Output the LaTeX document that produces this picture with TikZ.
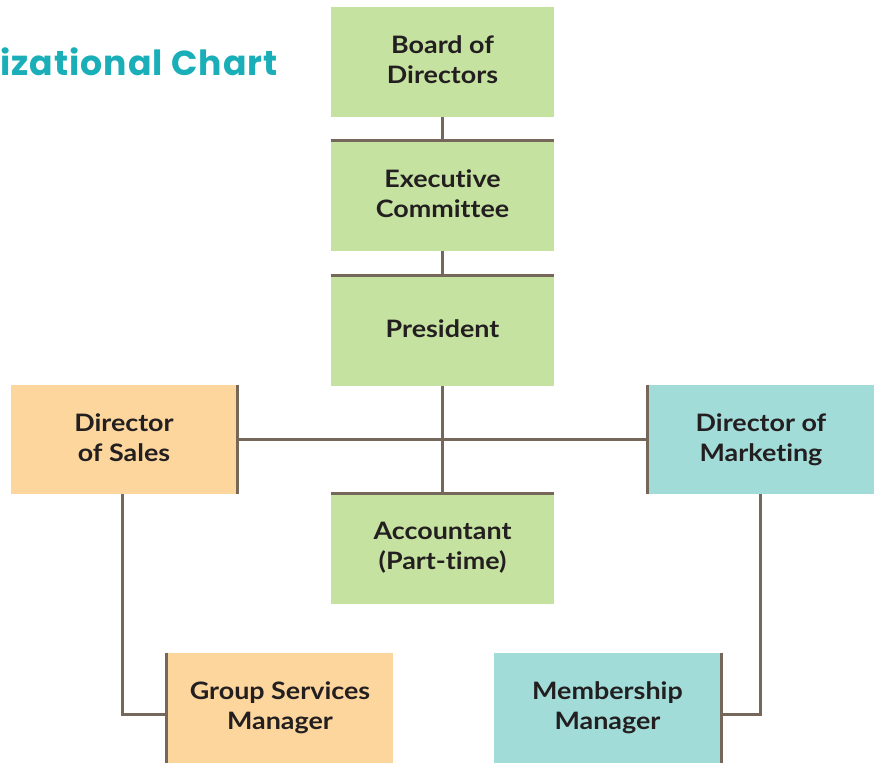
\documentclass[tikz,border=0pt]{standalone}
\usepackage{fontspec}
\setmainfont{Lato}[FakeStretch=1.12, Ligatures=NoCommon]
\newfontfamily\titlefont[LetterSpace=3]{Poppins}
\usepackage{tikz}
\usetikzlibrary{calc}
\usepackage{xcolor}

\definecolor{boardgreen}{RGB}{198,226,160}
\definecolor{salesorange}{RGB}{253,214,158}
\definecolor{mktteal}{RGB}{162,220,216}
\definecolor{rulebrown}{RGB}{117,104,90}
\definecolor{titleteal}{RGB}{26,175,184}
\definecolor{inkdark}{RGB}{35,31,32}

\tikzset{
  unit/.style={rectangle, inner sep=0pt, align=center, text=inkdark, text depth=3.6pt,
    font=\fontsize{18}{22.5}\selectfont\bfseries},
  greenunit/.style={unit, fill=boardgreen, minimum width=223*0.75pt, minimum height=110*0.75pt},
  salesunit/.style={unit, fill=salesorange, minimum width=226*0.75pt, minimum height=109*0.75pt},
  mktunit/.style={unit, fill=mktteal, minimum width=226*0.75pt, minimum height=109*0.75pt},
  edgebar/.style={draw=rulebrown, line width=2.6pt},
  link/.style={draw=rulebrown, line width=2.25pt},
}

\begin{document}
\begin{tikzpicture}[x=0.75pt,y=0.75pt,yscale=-1,xscale=1]
\useasboundingbox (0,0) rectangle (878,769);

% Title
\node [anchor=base west, inner sep=0pt, text=titleteal] (title) at (0,75)
  {\titlefont\fontsize{26}{30}\selectfont\bfseries izational Chart};

% Green column
\node [greenunit] (board) at (442.5,62) {Board of\\Directors};
\node [greenunit] (exec) at (442.5,195.5) {Executive\\Committee};
\node [greenunit] (pres) at (442.5,331) {President};
\node [greenunit] (acct) at (442.5,548.5) {Accountant\\(Part-time)};

% Directors
\node [salesunit] (sales) at (124,439.5) {Director\\of Sales};
\node [mktunit] (mkt) at (761,439.5) {Director of\\Marketing};

% Managers
\node [salesunit, minimum height=110*0.75pt] (group) at (280,708) {Group Services\\Manager};
\node [mktunit, minimum width=227*0.75pt, minimum height=110*0.75pt] (member) at (607.5,708) {Membership\\Manager};

% Heavy edges on boxes
\draw [edgebar] (exec.north west) -- (exec.north east);
\draw [edgebar] (pres.north west) -- (pres.north east);
\draw [edgebar] (acct.north west) -- (acct.north east);
\draw [edgebar] (sales.north east) -- (sales.south east);
\draw [edgebar] (mkt.north west) -- (mkt.south west);
\draw [edgebar] (group.north west) -- (group.south west);
\draw [edgebar] (member.north east) -- (member.south east);

% Connectors
\draw [link] (board.south) -- (exec.north);
\draw [link] (exec.south) -- (pres.north);
\draw [link] (pres.south) -- (acct.north);
\draw [link] (sales.east) -- (mkt.west);
\draw [link] ([xshift=-1pt]sales.south) |- ([yshift=4.5pt]group.west);
\draw [link] ([yshift=4.5pt]member.east) -| ([xshift=-0.75pt]mkt.south);

\end{tikzpicture}
\end{document}
